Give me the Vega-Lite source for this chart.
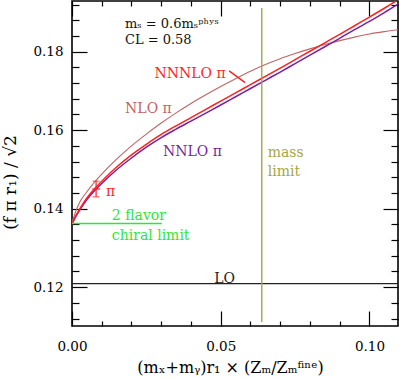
{
  "$schema": "https://vega.github.io/schema/vega-lite/v6.json",
  "width": 326,
  "height": 325,
  "autosize": {"type": "none"},
  "padding": {"left": 72, "top": 1, "right": 1, "bottom": 52},
  "config": {
    "view": {"stroke": "black", "strokeWidth": 1.6},
    "font": "DejaVu Serif",
    "axis": {
      "domain": false, "grid": false, "tickColor": "black", "tickWidth": 1.2,
      "labelColor": "black", "labelFont": "DejaVu Serif", "labelFontSize": 13.5,
      "labelFlush": false, "labelOverlap": false,
      "titleFont": "DejaVu Serif", "titleFontWeight": "normal", "titleColor": "black"
    }
  },
  "datasets": {
    "curves": [
      {"series": "NLO", "x": 0, "y": 0.1364}, {"series": "NLO", "x": 0.001, "y": 0.1388}, {"series": "NLO", "x": 0.0025, "y": 0.1415},
      {"series": "NLO", "x": 0.005, "y": 0.1443}, {"series": "NLO", "x": 0.0075, "y": 0.1467}, {"series": "NLO", "x": 0.01, "y": 0.1488},
      {"series": "NLO", "x": 0.015, "y": 0.1526}, {"series": "NLO", "x": 0.02, "y": 0.156}, {"series": "NLO", "x": 0.025, "y": 0.159},
      {"series": "NLO", "x": 0.03, "y": 0.1618}, {"series": "NLO", "x": 0.035, "y": 0.1644}, {"series": "NLO", "x": 0.04, "y": 0.1668},
      {"series": "NLO", "x": 0.045, "y": 0.169}, {"series": "NLO", "x": 0.05, "y": 0.1711}, {"series": "NLO", "x": 0.055, "y": 0.1731},
      {"series": "NLO", "x": 0.06, "y": 0.175}, {"series": "NLO", "x": 0.065, "y": 0.1767}, {"series": "NLO", "x": 0.07, "y": 0.1782},
      {"series": "NLO", "x": 0.075, "y": 0.1795}, {"series": "NLO", "x": 0.08, "y": 0.1807}, {"series": "NLO", "x": 0.085, "y": 0.1818},
      {"series": "NLO", "x": 0.09, "y": 0.1828}, {"series": "NLO", "x": 0.095, "y": 0.1837}, {"series": "NLO", "x": 0.1, "y": 0.1845},
      {"series": "NLO", "x": 0.105, "y": 0.1851}, {"series": "NLO", "x": 0.11, "y": 0.1856},
      {"series": "NNLO", "x": 0, "y": 0.1361}, {"series": "NNLO", "x": 0.001, "y": 0.1376}, {"series": "NNLO", "x": 0.0025, "y": 0.1395},
      {"series": "NNLO", "x": 0.005, "y": 0.1423}, {"series": "NNLO", "x": 0.0075, "y": 0.1445}, {"series": "NNLO", "x": 0.01, "y": 0.1464},
      {"series": "NNLO", "x": 0.015, "y": 0.1499}, {"series": "NNLO", "x": 0.02, "y": 0.1529}, {"series": "NNLO", "x": 0.025, "y": 0.15565},
      {"series": "NNLO", "x": 0.03, "y": 0.1581}, {"series": "NNLO", "x": 0.035, "y": 0.16025}, {"series": "NNLO", "x": 0.04, "y": 0.1623},
      {"series": "NNLO", "x": 0.045, "y": 0.16435}, {"series": "NNLO", "x": 0.05, "y": 0.1664}, {"series": "NNLO", "x": 0.055, "y": 0.1685},
      {"series": "NNLO", "x": 0.06, "y": 0.1706}, {"series": "NNLO", "x": 0.065, "y": 0.1727}, {"series": "NNLO", "x": 0.07, "y": 0.1748},
      {"series": "NNLO", "x": 0.075, "y": 0.17695}, {"series": "NNLO", "x": 0.08, "y": 0.1791}, {"series": "NNLO", "x": 0.085, "y": 0.18125},
      {"series": "NNLO", "x": 0.09, "y": 0.1834}, {"series": "NNLO", "x": 0.095, "y": 0.1856}, {"series": "NNLO", "x": 0.1, "y": 0.1877},
      {"series": "NNLO", "x": 0.105, "y": 0.18995}, {"series": "NNLO", "x": 0.11, "y": 0.1923},
      {"series": "NNNLO", "x": 0, "y": 0.1361}, {"series": "NNNLO", "x": 0.001, "y": 0.1378}, {"series": "NNNLO", "x": 0.0025, "y": 0.1398},
      {"series": "NNNLO", "x": 0.005, "y": 0.1427}, {"series": "NNNLO", "x": 0.0075, "y": 0.145}, {"series": "NNNLO", "x": 0.01, "y": 0.147},
      {"series": "NNNLO", "x": 0.015, "y": 0.1506}, {"series": "NNNLO", "x": 0.02, "y": 0.1537}, {"series": "NNNLO", "x": 0.025, "y": 0.1564},
      {"series": "NNNLO", "x": 0.03, "y": 0.1589}, {"series": "NNNLO", "x": 0.035, "y": 0.1611}, {"series": "NNNLO", "x": 0.04, "y": 0.1632},
      {"series": "NNNLO", "x": 0.045, "y": 0.16530}, {"series": "NNNLO", "x": 0.05, "y": 0.1674}, {"series": "NNNLO", "x": 0.055, "y": 0.1695},
      {"series": "NNNLO", "x": 0.06, "y": 0.1716}, {"series": "NNNLO", "x": 0.065, "y": 0.1737}, {"series": "NNNLO", "x": 0.07, "y": 0.1758},
      {"series": "NNNLO", "x": 0.075, "y": 0.17795}, {"series": "NNNLO", "x": 0.08, "y": 0.1801}, {"series": "NNNLO", "x": 0.085, "y": 0.18225},
      {"series": "NNNLO", "x": 0.09, "y": 0.1844}, {"series": "NNNLO", "x": 0.095, "y": 0.1866}, {"series": "NNNLO", "x": 0.1, "y": 0.1888},
      {"series": "NNNLO", "x": 0.105, "y": 0.19105}, {"series": "NNNLO", "x": 0.11, "y": 0.1934}
    ],
    "lines": [
      {"series": "LO", "x": 0, "x2": 0.1096, "y": 0.1209, "y2": 0.1209},
      {"series": "chiral", "x": 0, "x2": 0.0302, "y": 0.1362, "y2": 0.1362},
      {"series": "mass", "x": 0.0638, "x2": 0.0638, "y": 0.1111, "y2": 0.1911},
      {"series": "NNNLO", "x": 0.0528, "x2": 0.0582, "y": 0.1751, "y2": 0.1721}
    ],
    "pt": [
      {"series": "data", "x": 0.0081, "y": 0.145, "ylo": 0.143, "yhi": 0.147, "xlo": 0.0068, "xhi": 0.0095}
    ],
    "labels_c": [
      {"series": "NNNLO", "text": "NNNLO π", "x": 0.0397, "y": 0.1742},
      {"series": "NLO", "text": "NLO π", "x": 0.0257, "y": 0.1653},
      {"series": "NNLO", "text": "NNLO π", "x": 0.0405, "y": 0.1544},
      {"series": "LO", "text": "LO", "x": 0.0513, "y": 0.1222}
    ],
    "labels_l": [
      {"series": "mass", "text": "mass", "x": 0.0658, "y": 0.1542},
      {"series": "mass", "text": "limit", "x": 0.0658, "y": 0.1494},
      {"series": "data", "text": "π", "x": 0.0114, "y": 0.1443},
      {"series": "chiral", "text": "2 flavor", "x": 0.0134, "y": 0.1381},
      {"series": "chiral", "text": "chiral limit", "x": 0.0134, "y": 0.1331}
    ],
    "info": [
      {"series": "info", "text": "mₛ = 0.6mₛᵖʰʸˢ", "x": 0.0178, "y": 0.1871},
      {"series": "info", "text": "CL = 0.58", "x": 0.0178, "y": 0.1829}
    ]
  },
  "layer": [
    {
      "data": {"name": "curves"},
      "transform": [{"filter": "datum.series === 'NLO'"}],
      "mark": {"type": "line", "clip": true, "strokeWidth": 1.1, "interpolate": "monotone"},
      "encoding": {
        "x": {"field": "x", "type": "quantitative", "scale": {"domain": [0, 0.1096], "nice": false, "zero": false},
          "axis": {"orient": "bottom", "values": [0, 0.05, 0.1], "format": ".2f", "tickSize": -15, "labelPadding": 28,
            "title": "(mₓ+mᵧ)r₁ × (Zₘ/Zₘᶠⁱⁿᵉ)", "titleFontSize": 16, "titleX": 158, "titleY": 41, "titleBaseline": "middle", "titleAlign": "center"}},
        "y": {"field": "y", "type": "quantitative", "scale": {"domain": [0.1101, 0.1929], "nice": false, "zero": false},
          "axis": {"orient": "left", "values": [0.12, 0.14, 0.16, 0.18], "format": ".2f", "tickSize": -15, "labelPadding": 24,
            "title": "(f π  r₁) / √2", "titleFontSize": 17, "titleX": -62, "titleY": 181, "titleBaseline": "middle", "titleAlign": "center", "titleAngle": -90}},
        "color": {"field": "series", "type": "nominal", "legend": null,
          "scale": {"domain": ["NNNLO", "NNLO", "NLO", "data", "mass", "chiral", "LO", "info"],
            "range": ["#ff1f1f", "#7b1fa0", "#c06464", "#ff1f1f", "#a6a646", "#2ee82e", "#222222", "#111111"]}}
      }
    },
    {
      "data": {"name": "curves"},
      "transform": [{"filter": "datum.series !== 'NLO'"}],
      "mark": {"type": "line", "clip": true, "strokeWidth": 1.5, "interpolate": "monotone"},
      "encoding": {
        "x": {"field": "x", "type": "quantitative", "scale": {"domain": [0, 0.1096], "nice": false, "zero": false},
          "axis": {"orient": "bottom", "values": [0.01, 0.02, 0.03, 0.04, 0.06, 0.07, 0.08, 0.09], "tickSize": -5, "labels": false, "title": null}},
        "y": {"field": "y", "type": "quantitative", "scale": {"domain": [0.1101, 0.1929], "nice": false, "zero": false},
          "axis": {"orient": "left", "values": [0.112, 0.116, 0.124, 0.128, 0.132, 0.136, 0.144, 0.148, 0.152, 0.156, 0.164, 0.168, 0.172, 0.176, 0.184, 0.188, 0.192], "tickSize": -7, "labels": false, "title": null}},
        "color": {"field": "series", "type": "nominal", "legend": null}
      }
    },
    {
      "data": {"name": "lines"},
      "mark": {"type": "rule", "strokeWidth": 1.4},
      "encoding": {
        "x": {"field": "x", "type": "quantitative",
          "axis": {"orient": "top", "values": [0, 0.05, 0.1], "tickSize": -15, "labels": false, "title": null}},
        "x2": {"field": "x2"},
        "y": {"field": "y", "type": "quantitative",
          "axis": {"orient": "right", "values": [0.12, 0.14, 0.16, 0.18], "tickSize": -15, "labels": false, "title": null}},
        "y2": {"field": "y2"},
        "color": {"field": "series", "type": "nominal", "legend": null}
      }
    },
    {
      "data": {"name": "pt"},
      "mark": {"type": "rule", "strokeWidth": 1.2},
      "encoding": {
        "x": {"field": "x", "type": "quantitative",
          "axis": {"orient": "top", "values": [0.01, 0.02, 0.03, 0.04, 0.06, 0.07, 0.08, 0.09], "tickSize": -5, "labels": false, "title": null}},
        "y": {"field": "ylo", "type": "quantitative",
          "axis": {"orient": "right", "values": [0.112, 0.116, 0.124, 0.128, 0.132, 0.136, 0.144, 0.148, 0.152, 0.156, 0.164, 0.168, 0.172, 0.176, 0.184, 0.188, 0.192], "tickSize": -7, "labels": false, "title": null}},
        "y2": {"field": "yhi"},
        "color": {"field": "series", "type": "nominal", "legend": null}
      }
    },
    {
      "data": {"name": "pt"},
      "mark": {"type": "rule", "strokeWidth": 1.2},
      "encoding": {
        "x": {"field": "xlo", "type": "quantitative", "axis": null},
        "x2": {"field": "xhi"},
        "y": {"field": "y", "type": "quantitative", "axis": null},
        "color": {"field": "series", "type": "nominal", "legend": null}
      }
    },
    {
      "data": {"name": "pt"},
      "mark": {"type": "tick", "orient": "horizontal", "size": 7, "thickness": 1.2},
      "encoding": {
        "x": {"field": "x", "type": "quantitative", "axis": null},
        "y": {"field": "yhi", "type": "quantitative", "axis": null},
        "color": {"field": "series", "type": "nominal", "legend": null}
      }
    },
    {
      "data": {"name": "pt"},
      "mark": {"type": "tick", "orient": "horizontal", "size": 7, "thickness": 1.2},
      "encoding": {
        "x": {"field": "x", "type": "quantitative", "axis": null},
        "y": {"field": "ylo", "type": "quantitative", "axis": null},
        "color": {"field": "series", "type": "nominal", "legend": null}
      }
    },
    {
      "data": {"name": "labels_c"},
      "mark": {"type": "text", "align": "center", "baseline": "middle", "fontSize": 14, "font": "DejaVu Serif"},
      "encoding": {
        "x": {"field": "x", "type": "quantitative", "axis": null},
        "y": {"field": "y", "type": "quantitative", "axis": null},
        "text": {"field": "text"},
        "color": {"field": "series", "type": "nominal", "legend": null}
      }
    },
    {
      "data": {"name": "labels_l"},
      "mark": {"type": "text", "align": "left", "baseline": "middle", "fontSize": 14, "font": "DejaVu Serif"},
      "encoding": {
        "x": {"field": "x", "type": "quantitative", "axis": null},
        "y": {"field": "y", "type": "quantitative", "axis": null},
        "text": {"field": "text"},
        "color": {"field": "series", "type": "nominal", "legend": null}
      }
    },
    {
      "data": {"name": "info"},
      "mark": {"type": "text", "align": "left", "baseline": "middle", "fontSize": 13, "font": "DejaVu Serif"},
      "encoding": {
        "x": {"field": "x", "type": "quantitative", "axis": null},
        "y": {"field": "y", "type": "quantitative", "axis": null},
        "text": {"field": "text"},
        "color": {"field": "series", "type": "nominal", "legend": null}
      }
    }
  ],
  "resolve": {"axis": {"x": "independent", "y": "independent"}}
}
